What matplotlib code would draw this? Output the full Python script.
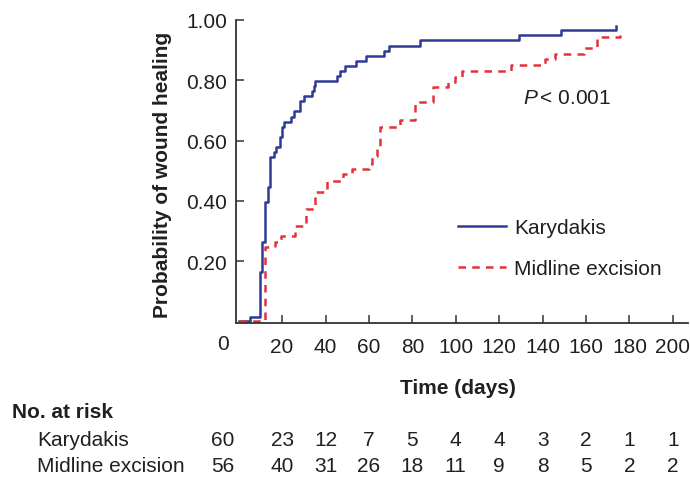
import matplotlib
matplotlib.use("Agg")
import matplotlib.pyplot as plt
from matplotlib.transforms import blended_transform_factory

plt.rcParams['font.family'] = ['Liberation Sans', 'DejaVu Sans']
plt.rcParams['mathtext.fontset'] = 'custom'
plt.rcParams['mathtext.rm'] = 'Liberation Sans'
plt.rcParams['mathtext.it'] = 'Liberation Sans:italic'

# Kaplan-Meier steps (days, cumulative probability of healing)
kary_days = [0, 5.2, 9.8, 10.7, 12.3, 13.5, 14.2, 16.3, 17.3, 19.2, 19.8, 21.0,
             24.1, 25.3, 28.4, 30.2, 33.6, 34.5, 35.1, 45.2, 46.8, 49.1, 54.2,
             58.5, 66.9, 69.4, 83.6, 129.2, 148.6, 173.7]
kary_prob = [0, 0.015, 0.163, 0.265, 0.397, 0.447, 0.545, 0.563, 0.58, 0.613,
             0.646, 0.663, 0.679, 0.697, 0.73, 0.749, 0.764, 0.78, 0.797, 0.814,
             0.83, 0.848, 0.864, 0.882, 0.897, 0.915, 0.933, 0.951, 0.967, 0.979]

mid_days = [0, 12.0, 16.8, 19.5, 26.1, 31.0, 35.3, 40.5, 48.0, 52.0, 60.0, 61.6,
            63.5, 65.0, 74.3, 81.2, 89.7, 96.5, 99.5, 102.8, 125.3, 141.1, 145.8,
            159.1, 165.0, 175.7]
mid_prob = [0, 0.246, 0.265, 0.285, 0.318, 0.373, 0.428, 0.467, 0.489, 0.506,
            0.522, 0.55, 0.58, 0.644, 0.667, 0.727, 0.777, 0.795, 0.81, 0.832,
            0.851, 0.871, 0.888, 0.907, 0.943, 0.95]

risk_times = [0, 20, 40, 60, 80, 100, 120, 140, 160, 180, 200]
risk_kary = [60, 23, 12, 7, 5, 4, 4, 3, 2, 1, 1]
risk_mid = [56, 40, 31, 26, 18, 11, 9, 8, 5, 2, 2]

y_ticks = [0.2, 0.4, 0.6, 0.8, 1.0]

blue = '#2e3a96'
red = '#e2323a'
ink = '#231f20'
fs = 15

W, H = 690, 481
fig = plt.figure(figsize=(W / 100, H / 100), dpi=100)
ax = fig.add_axes([236 / W, 1 - 324 / H, 452 / W, 303 / H])

ax.step(kary_days, kary_prob, where='post', color=blue, lw=1.8, label='Karydakis')
ax.step(mid_days, mid_prob, where='post', color=red, lw=1.8, dashes=(3.0, 2.5),
        label='Midline excision')

ax.set_xlim(-1.24, 207.0)
ax.set_ylim(-0.005, 1.0)
ax.set_xticks(risk_times[1:])
ax.set_xticklabels([str(t) for t in risk_times[1:]])
ax.set_yticks(y_ticks)
ax.set_yticklabels(['%.2f' % v for v in y_ticks])

for s in ['top', 'right']:
    ax.spines[s].set_visible(False)
for s in ['left', 'bottom']:
    ax.spines[s].set_linewidth(1.3)
    ax.spines[s].set_color('#333333')
ax.tick_params(direction='in', length=5.8, width=1.1, color='#333333',
               labelsize=fs, labelcolor=ink)
ax.tick_params(axis='x', pad=10)
ax.tick_params(axis='y', pad=6.5)

def day_of(px):
    return (px - 238.7) / 2.1706

def fy(py):
    return 1 - py / H

tr = blended_transform_factory(ax.transData, fig.transFigure)

# the "0" label sits left of the axis in the original
ax.text(day_of(223), fy(345), '0', transform=tr, ha='center', va='center',
        fontsize=fs, color=ink)

fig.text(163 / W, fy(175), 'Probability of wound healing', rotation=90,
         ha='center', va='center', fontsize=fs, fontweight='bold', color=ink)
fig.text(458 / W, fy(388), 'Time (days)', ha='center', va='center',
         fontsize=fs, fontweight='bold', color=ink)
fig.text(523 / W, fy(98), r'$P\,$< 0.001', ha='left', va='center',
         fontsize=fs, color=ink)

leg = ax.legend(loc='upper left', bbox_to_anchor=(458 / W, fy(219)),
                bbox_transform=fig.transFigure, frameon=False, fontsize=fs,
                handlelength=2.3, handletextpad=0.4, labelspacing=1.05,
                borderpad=0, borderaxespad=0)
for t in leg.get_texts():
    t.set_color(ink)

# number at risk table
fig.text(12 / W, fy(412), 'No. at risk', ha='left', va='center', fontsize=fs,
         fontweight='bold', color=ink)
fig.text(37 / W, fy(440), 'Karydakis', ha='left', va='center', fontsize=fs,
         color=ink)
fig.text(37 / W, fy(466), 'Midline excision', ha='left', va='center',
         fontsize=fs, color=ink)
for t, k, m in zip(risk_times, risk_kary, risk_mid):
    xt = day_of(223) if t == 0 else t
    ax.text(xt, fy(440), str(k), transform=tr, ha='center', va='center',
            fontsize=fs, color=ink)
    ax.text(xt, fy(466), str(m), transform=tr, ha='center', va='center',
            fontsize=fs, color=ink)

fig.savefig('out.png', dpi=100)
